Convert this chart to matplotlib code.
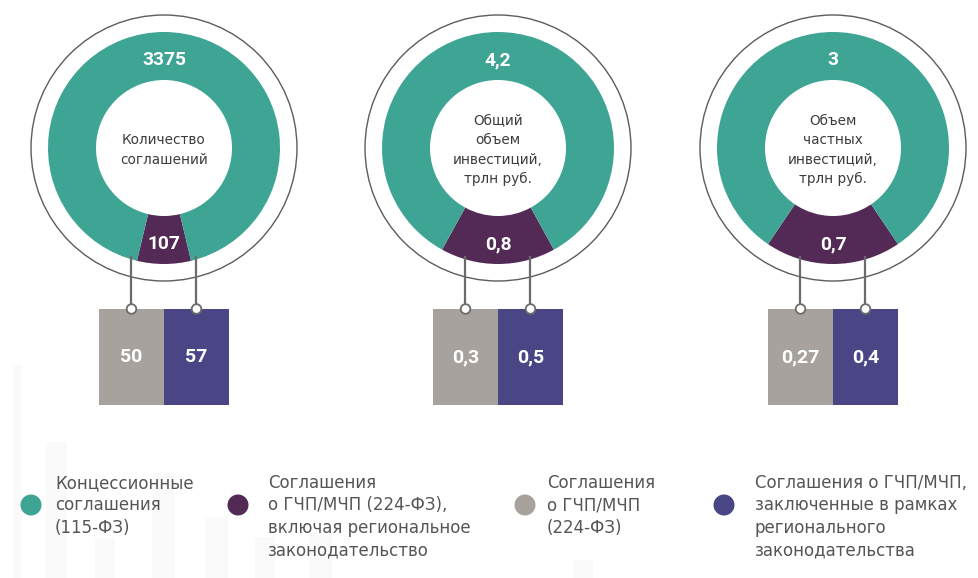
import numpy as np
import matplotlib.pyplot as plt
from matplotlib.patches import Circle, Rectangle

plt.rcParams['font.family'] = ['Roboto', 'DejaVu Sans']
WIDE = ['DejaVu Sans']

# data
center_labels = ["Количество\nсоглашений",
                 "Общий\nобъем\nинвестиций,\nтрлн руб.",
                 "Объем\nчастных\nинвестиций,\nтрлн руб."]
concession = [3375, 4.2, 3]          # 115-ФЗ
ppp_total = [107, 0.8, 0.7]          # 224-ФЗ incl. regional
ppp_federal = [50, 0.3, 0.27]        # 224-ФЗ
ppp_regional = [57, 0.5, 0.4]        # regional legislation

legend_labels = ["Концессионные\nсоглашения\n(115-ФЗ)",
                 "Соглашения\nо ГЧП/МЧП (224-ФЗ),\nвключая региональное\nзаконодательство",
                 "Соглашения\nо ГЧП/МЧП\n(224-ФЗ)",
                 "Соглашения о ГЧП/МЧП,\nзаключенные в рамках\nрегионального\nзаконодательства"]

# faint background bars (decoration), left edge and top in px
bg_x = [13, 46, 95, 152, 205, 255, 310, 573]
bg_top = [365, 442, 539, 473, 517, 537, 533, 560]
bg_w = [9, 21, 20, 23, 23, 20, 22, 20]

# colours
TEAL = '#3ea494'
PURPLE = '#532a55'
GREY = '#a8a29e'
BLUE = '#4a4584'
TEXT = '#555555'
DARK = '#3d3d3d'
LINE = '#6b6b6b'

W, H = 979, 578


def fmt(v):
    return f"{v:g}".replace('.', ',')


fig = plt.figure(figsize=(W / 100, H / 100), dpi=100)
ax = fig.add_axes([0, 0, 1, 1])

for x, top, w in zip(bg_x, bg_top, bg_w):
    ax.add_patch(Rectangle((x, 0), w, H - top, color='#fafafa', lw=0, zorder=0))

centers_x = [164, 498, 833]
cy = H - 148
r_out, r_in, r_ring = 116, 68, 133
min_share = 0.075

for i, cx in enumerate(centers_x):
    ax.add_patch(Circle((cx, cy), r_ring, fill=False, ec='#5c5c5c', lw=1.0, zorder=1))

    share = ppp_total[i] / (concession[i] + ppp_total[i])
    share = max(share, min_share)
    ax.pie([share, 1 - share], colors=[PURPLE, TEAL], startangle=270 - share * 180,
           counterclock=True, radius=r_out, center=(cx, cy), frame=True,
           wedgeprops=dict(width=r_out - r_in, linewidth=0))

    ax.text(cx, cy + 88, fmt(concession[i]), color='white', fontsize=13.8,
            fontweight='bold', ha='center', va='center')
    ax.text(cx, cy - 96, fmt(ppp_total[i]), color='white', fontsize=13.8,
            fontweight='bold', ha='center', va='center')
    ax.text(cx, cy - 2, center_labels[i], color=DARK, fontsize=9.8, family=WIDE,
            ha='center', va='center', linespacing=1.5)

    # sub-split squares
    sq_w, sq_top, sq_bot = 65, H - 309, H - 405
    ax.add_patch(Rectangle((cx - sq_w, sq_bot), sq_w, sq_top - sq_bot, color=GREY, lw=0, zorder=2))
    ax.add_patch(Rectangle((cx, sq_bot), sq_w, sq_top - sq_bot, color=BLUE, lw=0, zorder=2))
    ymid = (sq_top + sq_bot) / 2
    ax.text(cx - sq_w / 2, ymid, fmt(ppp_federal[i]), color='white', fontsize=14,
            fontweight='bold', ha='center', va='center', zorder=3)
    ax.text(cx + sq_w / 2, ymid, fmt(ppp_regional[i]), color='white', fontsize=14,
            fontweight='bold', ha='center', va='center', zorder=3)

    # connectors
    for dx in (-sq_w / 2, sq_w / 2):
        y0 = cy - np.sqrt(r_out ** 2 - dx ** 2) + 3
        ax.plot([cx + dx, cx + dx], [y0, sq_top], color=LINE, lw=1.6, zorder=3,
                solid_capstyle='butt')
        ax.add_patch(Circle((cx + dx, sq_top), 4.8, fc='white', ec=LINE, lw=1.3, zorder=4))

# legend
marker_x = [31, 238, 525, 724]
text_x = [55, 268, 547, 755]
legend_colors = [TEAL, PURPLE, GREY, BLUE]
for mx, tx, col, lab in zip(marker_x, text_x, legend_colors, legend_labels):
    ax.add_patch(Circle((mx, H - 505), 10.5, color=col, lw=0, zorder=2))
    ax.text(tx, H - 474, lab, color=TEXT, fontsize=12, family=WIDE, ha='left', va='top',
            linespacing=1.32, zorder=3)

ax.set_xlim(0, W)
ax.set_ylim(0, H)
ax.set_aspect('auto')
ax.axis('off')

fig.savefig('out.png', dpi=100, facecolor='white')
